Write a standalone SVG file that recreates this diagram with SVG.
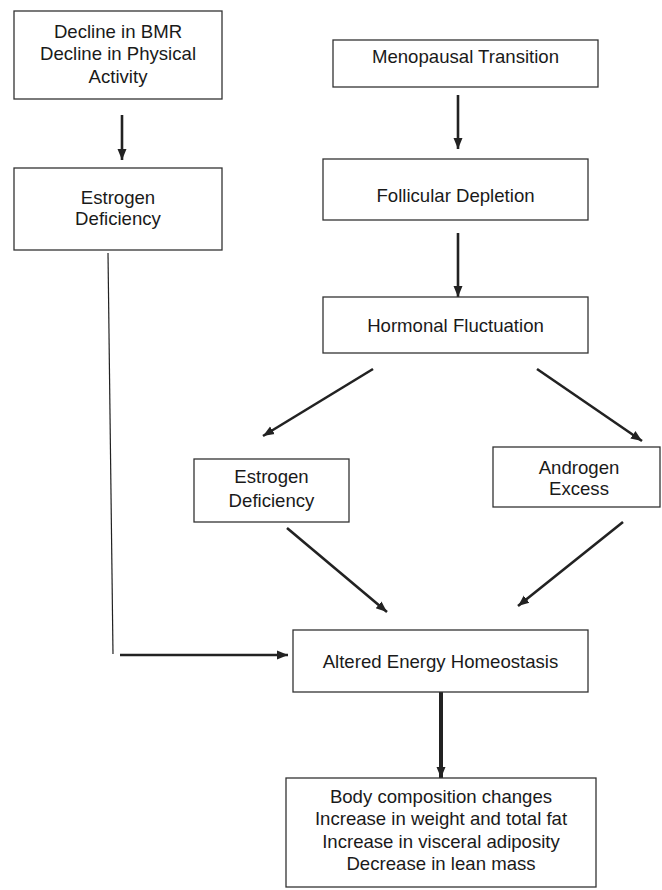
<svg xmlns="http://www.w3.org/2000/svg" width="662" height="890" viewBox="0 0 662 890">
<style>
.box{fill:#fff;stroke:#333;stroke-width:1.3}
.t{font-family:"Liberation Sans",Arial,sans-serif;font-size:18.6px;fill:#1a1a1a;text-anchor:middle}
.a{stroke:#222;stroke-width:2.6;fill:none;marker-end:url(#ah)}
.a4{stroke:#222;stroke-width:4;fill:none;marker-end:url(#ah)}
.thin{stroke:#222;stroke-width:1.2;fill:none}
</style>
<defs>
<marker id="ah" markerUnits="userSpaceOnUse" markerWidth="12" markerHeight="12" viewBox="0 0 12 12" refX="11" refY="6" orient="auto">
<path d="M0,1.5 L11,6 L0,10.5 z" fill="#222"/>
</marker>
</defs>
<rect width="662" height="890" fill="#fff"/>
<g id="connectors">
<line class="a" x1="122" y1="115" x2="122" y2="160"/>
<line class="a" x1="458" y1="95" x2="458" y2="149"/>
<line class="a" x1="458" y1="233" x2="458" y2="297"/>
<line class="a" x1="373" y1="369" x2="263" y2="436"/>
<line class="a" x1="537" y1="369" x2="642" y2="441"/>
<line class="a" x1="287" y1="528" x2="387" y2="612"/>
<line class="a" x1="623" y1="522" x2="518" y2="606"/>
<line class="thin" x1="108" y1="253" x2="113" y2="654"/>
<line class="a" x1="120" y1="655" x2="288" y2="655"/>
<line class="a4" x1="441" y1="692" x2="441" y2="778"/>
</g>
<g id="n1"><rect class="box" x="14" y="11" width="208" height="88"/>
<text class="t" x="118" y="38">Decline in BMR</text>
<text class="t" x="118" y="60">Decline in Physical</text>
<text class="t" x="118" y="83">Activity</text></g>
<g id="n2"><rect class="box" x="14" y="168" width="208" height="82"/>
<text class="t" x="118" y="204">Estrogen</text>
<text class="t" x="118" y="225">Deficiency</text></g>
<g id="n3"><rect class="box" x="333" y="40" width="265" height="47"/>
<text class="t" x="465.5" y="63">Menopausal Transition</text></g>
<g id="n4"><rect class="box" x="323" y="159" width="265" height="61"/>
<text class="t" x="455.5" y="202">Follicular Depletion</text></g>
<g id="n5"><rect class="box" x="323" y="297" width="265" height="56"/>
<text class="t" x="455.5" y="332">Hormonal Fluctuation</text></g>
<g id="n6"><rect class="box" x="194" y="459" width="155" height="63"/>
<text class="t" x="271.5" y="483">Estrogen</text>
<text class="t" x="271.5" y="507">Deficiency</text></g>
<g id="n7"><rect class="box" x="493" y="447" width="167" height="60"/>
<text class="t" x="579" y="474">Androgen</text>
<text class="t" x="579" y="495">Excess</text></g>
<g id="n8"><rect class="box" x="293" y="630" width="295" height="62"/>
<text class="t" x="440.5" y="668">Altered Energy Homeostasis</text></g>
<g id="n9"><rect class="box" x="286" y="778" width="310" height="109"/>
<text class="t" x="441" y="803">Body composition changes</text>
<text class="t" x="441" y="825">Increase in weight and total fat</text>
<text class="t" x="441" y="848">Increase in visceral adiposity</text>
<text class="t" x="441" y="870">Decrease in lean mass</text></g>
</svg>
